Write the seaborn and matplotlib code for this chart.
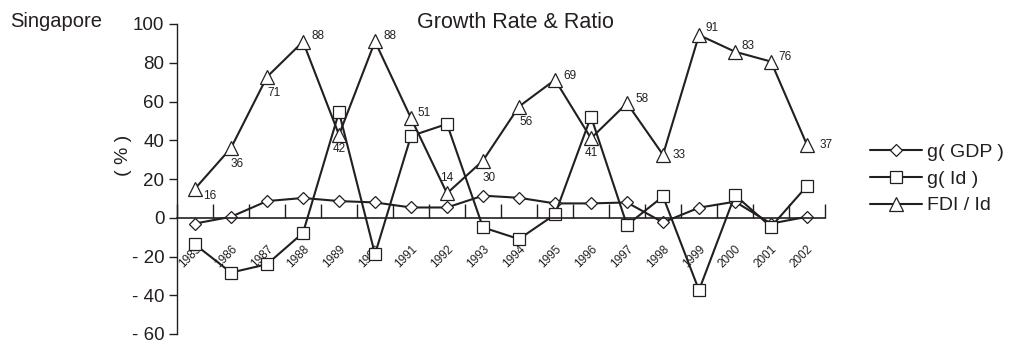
import matplotlib
matplotlib.use("Agg")
import matplotlib.pyplot as plt
import seaborn as sns
import numpy as np
import pandas as pd
from matplotlib.ticker import FixedLocator

years = [str(y) for y in range(1985, 2003)]
g_gdp = [-3, 0.5, 8.6, 10.2, 8.6, 7.9, 5.3, 5.3, 11.4, 10.3, 7.4, 7.4, 7.9, -2.4, 5.2, 8.3, -3, 0.5]
g_id = [-13.8, -28.3, -24, -7.8, 54.5, -18.8, 42.2, 48.4, -5, -11, 1.7, 52.2, -3.8, 11, -37.4, 11.7, -4.7, 16.4]
fdi_id = [15, 36, 72.7, 90.9, 42.8, 91, 51.4, 12.6, 29.5, 57.4, 71.2, 41, 59.1, 32.5, 94.3, 85.7, 80.6, 37.6]
fdi_labels = ["16", "36", "71", "88", "42", "88", "51", "14", "30", "56", "69", "41", "58", "33", "91", "83", "76", "37"]
# label offsets in points (dx, dy) and alignment
label_off = [(6, -1, 'left', 'top'), (0, -7, 'left', 'top'), (0, -7, 'left', 'top'),
             (6, 4, 'left', 'center'), (0, -6, 'center', 'top'), (6, 4, 'left', 'center'),
             (5, 4, 'left', 'center'), (0, 7, 'center', 'bottom'), (0, -8, 'left', 'top'),
             (0, -7, 'left', 'top'), (6, 3, 'left', 'center'), (0, -6, 'center', 'top'),
             (6, 3, 'left', 'center'), (7, 0, 'left', 'center'), (5, 5, 'left', 'center'),
             (5, 4, 'left', 'center'), (5, 3, 'left', 'center'), (9, 0, 'left', 'center')]
y_ticks = [100, 80, 60, 40, 20, 0, -20, -40, -60]
y_tick_labels = ["100", "80", "60", "40", "20", "0", "- 20", "- 40", "- 60"]

sns.set_theme(style="white")
plt.rcParams['font.family'] = ['Liberation Sans', 'DejaVu Sans']

fig = plt.figure(figsize=(10.12, 3.45), dpi=100)
ax = fig.add_axes([177 / 1012, 11 / 345, 648 / 1012, 310 / 345])

x = np.arange(len(years))
df = pd.DataFrame({"x": x, "g_gdp": g_gdp, "g_id": g_id, "fdi": fdi_id})
col = "#231f20"
common = dict(color=col, linewidth=1.5, markerfacecolor="white", markeredgecolor=col,
              markeredgewidth=0.9, ax=ax)
sns.lineplot(data=df, x="x", y="g_gdp", marker="D", markersize=6.2, label="g( GDP )", **common)
sns.lineplot(data=df, x="x", y="g_id", marker="s", markersize=8, label="g( Id )", **common)
sns.lineplot(data=df, x="x", y="fdi", marker="^", markersize=9.5, label="FDI / Id", **common)

for xi, v, lab, (dx, dy, ha, va) in zip(x, fdi_id, fdi_labels, label_off):
    ax.annotate(lab, (xi, v), xytext=(dx, dy), textcoords="offset points", fontsize=8.5,
                color=col, va=va, ha=ha)

ax.set_xlim(-0.5, len(years) - 0.5)
ax.set_ylim(-60, 100)
ax.set_xlabel("")
ax.set_ylabel("( % )", fontsize=14, color=col)
ax.yaxis.set_label_coords(-0.07, 0.575)

for s in ["top", "right"]:
    ax.spines[s].set_visible(False)
ax.spines["left"].set_color(col)
ax.spines["left"].set_linewidth(1.0)
ax.spines["bottom"].set_position(("data", 0))
ax.spines["bottom"].set_color(col)
ax.spines["bottom"].set_linewidth(1.2)

ax.set_yticks(y_ticks)
ax.set_yticklabels(y_tick_labels, fontsize=13.5, color=col)
ax.tick_params(axis="y", direction="out", length=6, width=1, color=col, left=True, pad=3)

ax.set_xticks(x)
ax.set_xticklabels(years, rotation=45, ha="right", va="top", fontsize=8.5, color=col,
                   rotation_mode="anchor")
ax.tick_params(axis="x", which="major", length=0, pad=18)
ax.xaxis.set_minor_locator(FixedLocator(np.arange(-0.5, len(years), 1.0)))
ax.tick_params(axis="x", which="minor", direction="in", length=10, width=1, color=col, bottom=True)
ax.grid(False)

leg = ax.legend(loc="upper left", bbox_to_anchor=(870 / 1012, 1 - 143 / 345),
                bbox_transform=fig.transFigure, frameon=False, fontsize=14,
                handlelength=2.7, handletextpad=0.25, labelspacing=0.48,
                borderaxespad=0, borderpad=0)
for t in leg.get_texts():
    t.set_color(col)

fig.text(515 / 1012, 1 - 22 / 345, "Growth Rate & Ratio", fontsize=15.5, ha="center", va="center", color=col)
fig.text(10 / 1012, 1 - 27 / 345, "Singapore", fontsize=14.5, ha="left", va="baseline", color=col)

fig.savefig("out.png", dpi=100)
